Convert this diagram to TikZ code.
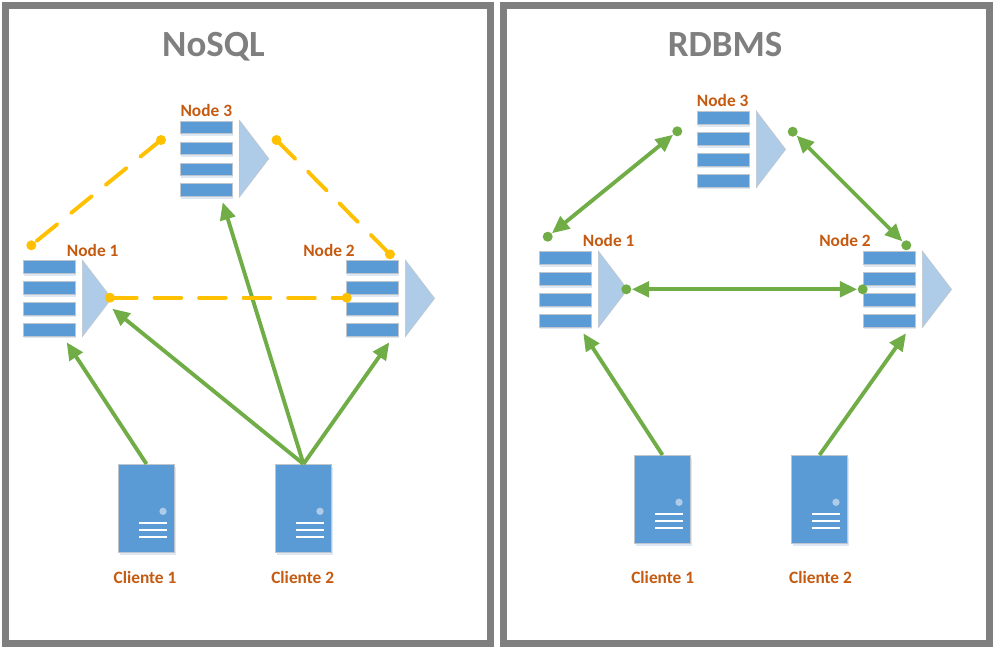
\documentclass[tikz,border=0pt]{standalone}
\usepackage{fontspec}
\setmainfont{Carlito}
\usetikzlibrary{arrows.meta,shadows}
\definecolor{framegray}{HTML}{7F7F7F}
\definecolor{barblue}{HTML}{5B9BD5}
\definecolor{barline}{HTML}{BFC5CC}
\definecolor{triblue}{HTML}{AECBE8}
\definecolor{softblue}{HTML}{DDE8F4}
\definecolor{labelorange}{HTML}{C55A11}
\definecolor{linkgreen}{HTML}{70AD47}
\definecolor{linkyellow}{HTML}{FFC000}
\tikzset{every picture/.style={line width=0.75pt},
  panel/.style={draw=framegray,line width=5.25pt,fill=white,general shadow={fill=softblue,shadow xshift=1.5pt,shadow yshift=-1.5pt}},
  title/.style={text=framegray,font=\fontsize{27.7}{32}\selectfont\bfseries,inner sep=0pt,anchor=base},
  tag/.style={text=labelorange,font=\fontsize{13}{15}\selectfont\bfseries,inner sep=0pt},
  bar/.style={draw=barline,fill=barblue,minimum width=39pt,minimum height=9.6pt,inner sep=0pt,general shadow={fill=softblue,shadow yshift=-1.5pt}},
  tri/.style={draw=barline,line width=0.4pt,fill=triblue},
  client/.style={draw=barline,fill=barblue,minimum width=42pt,minimum height=66pt,inner sep=0pt,general shadow={fill=softblue,shadow xshift=0.75pt,shadow yshift=-1.5pt}},
  led/.style={fill=triblue,circle,minimum size=5.5pt,inner sep=0pt},
  slot/.style={draw=white,line width=1.6pt},
  dotg/.style={fill=linkgreen,circle,minimum size=7.5pt,inner sep=0pt},
  doty/.style={fill=linkyellow,circle,minimum size=7.5pt,inner sep=0pt},
  link/.style={draw=linkgreen,line width=2.9pt,-{Triangle[length=13pt,width=11.5pt]}},
  both/.style={draw=linkgreen,line width=2.9pt,{Triangle[length=13pt,width=11.5pt]}-{Triangle[length=13pt,width=11.5pt]}},
  sync/.style={draw=linkyellow,line width=2.9pt,line cap=round,dash pattern=on 20pt off 13.4pt}}

\begin{document}
\begin{tikzpicture}[x=0.75pt,y=0.75pt,yscale=-1,xscale=1]

\useasboundingbox (0,0) rectangle (996,650);

\draw [panel] (5.5,5.5) rectangle (490.5,643);
\draw [panel] (503.5,5.5) rectangle (989.5,643);

\node [title] (titleleft) at (213.5,56) {NoSQL};
\node [title] (titleright) at (725,56) {RDBMS};

\node [bar] (la1) at (206.5,127.5) {};
\node [bar] (la2) at (206.5,148.5) {};
\node [bar] (la3) at (206.5,169.4) {};
\node [bar] (la4) at (206.5,190.3) {};
\draw [tri] (239.5,120.3) -- (268.8,158.7) -- (239.5,197) -- cycle ;
\node [tag] (lnode3) at (206.3,110.7) {Node 3};

\node [bar] (lb1) at (49.5,267.1) {};
\node [bar] (lb2) at (49.5,288.1) {};
\node [bar] (lb3) at (49.5,309) {};
\node [bar] (lb4) at (49.5,329.9) {};
\draw [tri] (82.3,260) -- (111.6,298.4) -- (82.3,336.7) -- cycle ;
\node [tag] (lnode1) at (92.7,250.7) {Node 1};

\node [bar] (lc1) at (372.5,267.1) {};
\node [bar] (lc2) at (372.5,288.1) {};
\node [bar] (lc3) at (372.5,309) {};
\node [bar] (lc4) at (372.5,329.9) {};
\draw [tri] (405.3,260) -- (434.6,298.4) -- (405.3,336.7) -- cycle ;
\node [tag] (lnode2) at (329,250.7) {Node 2};

\node [bar] (ra1) at (723.5,118.1) {};
\node [bar] (ra2) at (723.5,139.1) {};
\node [bar] (ra3) at (723.5,160) {};
\node [bar] (ra4) at (723.5,180.9) {};
\draw [tri] (756.3,111) -- (785.6,149.4) -- (756.3,187.7) -- cycle ;
\node [tag] (rnode3) at (722.7,100.7) {Node 3};

\node [bar] (rb1) at (565.5,258.1) {};
\node [bar] (rb2) at (565.5,279.1) {};
\node [bar] (rb3) at (565.5,300) {};
\node [bar] (rb4) at (565.5,320.9) {};
\draw [tri] (598.3,251) -- (627.6,289.4) -- (598.3,327.7) -- cycle ;
\node [tag] (rnode1) at (608.7,240.7) {Node 1};

\node [bar] (rc1) at (889.5,258.1) {};
\node [bar] (rc2) at (889.5,279.1) {};
\node [bar] (rc3) at (889.5,300) {};
\node [bar] (rc4) at (889.5,320.9) {};
\draw [tri] (922.3,251) -- (951.6,289.4) -- (922.3,327.7) -- cycle ;
\node [tag] (rnode2) at (845,240.7) {Node 2};

\node [client] (lclient1) at (146.5,508.5) {};
\node [led] (lled1) at (163,511.3) {};
\draw [slot] (139.3,523.3) -- (166.7,523.3) ;
\draw [slot] (139.3,530.3) -- (166.7,530.3) ;
\draw [slot] (139.3,537) -- (166.7,537) ;
\node [tag] (lname1) at (145,577.7) {Cliente 1};

\node [client] (lclient2) at (303.5,508.5) {};
\node [led] (lled2) at (320,511.3) {};
\draw [slot] (296.3,523.3) -- (323.7,523.3) ;
\draw [slot] (296.3,530.3) -- (323.7,530.3) ;
\draw [slot] (296.3,537) -- (323.7,537) ;
\node [tag] (lname2) at (302.7,577.7) {Cliente 2};

\node [client] (rclient1) at (662.5,499.5) {};
\node [led] (rled1) at (679,502.3) {};
\draw [slot] (655.3,514.3) -- (682.7,514.3) ;
\draw [slot] (655.3,521.3) -- (682.7,521.3) ;
\draw [slot] (655.3,528) -- (682.7,528) ;
\node [tag] (rname1) at (662.7,577.7) {Cliente 1};

\node [client] (rclient2) at (819.5,499.5) {};
\node [led] (rled2) at (836,502.3) {};
\draw [slot] (812.3,514.3) -- (839.7,514.3) ;
\draw [slot] (812.3,521.3) -- (839.7,521.3) ;
\draw [slot] (812.3,528) -- (839.7,528) ;
\node [tag] (rname2) at (820.5,577.7) {Cliente 2};

\coordinate (ltip1) at (66.7,342.3);
\coordinate (ltip2) at (112.3,308.7);
\coordinate (ltip3) at (222.7,202.3);
\coordinate (ltip4) at (389.3,342.3);
\coordinate (rtip1) at (583.3,333.3);
\coordinate (rtip2) at (906,333.3);

\draw [link] (lclient1.north) -- (ltip1) ;
\draw [link] (lclient2.north) -- (ltip2) ;
\draw [link] (lclient2.north) -- (ltip3) ;
\draw [link] (lclient2.north) -- (ltip4) ;
\draw [link] (rclient1.north) -- (rtip1) ;
\draw [link] (rclient2.north) -- (rtip2) ;

\node [doty] (ldot3w) at (161,140) {};
\node [doty] (ldot3e) at (276.5,140) {};
\node [doty] (ldot1n) at (31.3,245.3) {};
\node [doty] (ldot1e) at (110,297.7) {};
\node [doty] (ldot2w) at (346.7,297.7) {};
\node [doty] (ldot2n) at (390,254.3) {};

\draw [sync] (ldot3w.center) -- (ldot1n.center) ;
\draw [sync] (ldot3e.center) -- (ldot2n.center) ;
\draw [sync] (ldot1e.center) -- (ldot2w.center) ;

\node [dotg] (rdot3w) at (677.3,131.3) {};
\node [dotg] (rdot3e) at (792.7,131.7) {};
\node [dotg] (rdot1n) at (547.7,236.7) {};
\node [dotg] (rdot1e) at (626.3,289.3) {};
\node [dotg] (rdot2w) at (862.7,289.3) {};
\node [dotg] (rdot2n) at (906.3,245.3) {};

\draw [both] (rdot3w) -- (rdot1n) ;
\draw [both] (rdot3e) -- (rdot2n) ;
\draw [both] (rdot1e) -- (rdot2w) ;

\end{tikzpicture}
\end{document}
